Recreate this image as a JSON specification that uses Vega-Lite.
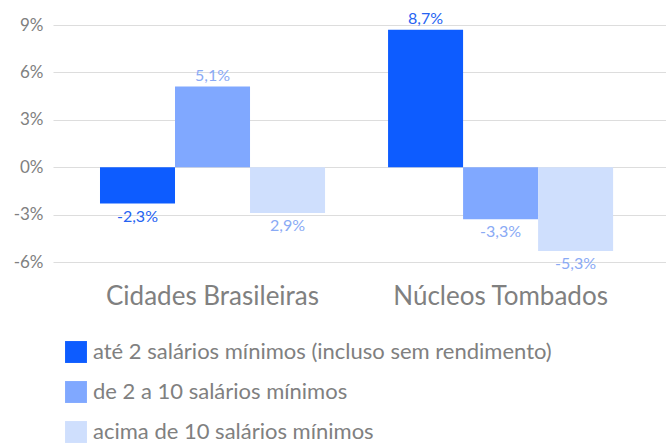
{
  "$schema": "https://vega.github.io/schema/vega-lite/v6.json",
  "width": 613,
  "height": 237,
  "autosize": {"type": "none"},
  "padding": {"left": 53, "top": 25, "right": 0, "bottom": 186},
  "config": {"view": {"stroke": null}, "font": "Lato"},
  "data": {
    "values": [
      {"grupo": "Cidades Brasileiras", "faixa": "até 2 salários mínimos (incluso sem rendimento)", "valor": -2.3, "rotulo": "-2,3%"},
      {"grupo": "Cidades Brasileiras", "faixa": "de 2 a 10 salários mínimos", "valor": 5.1, "rotulo": "5,1%"},
      {"grupo": "Cidades Brasileiras", "faixa": "acima de 10 salários mínimos", "valor": -2.9, "rotulo": "2,9%"},
      {"grupo": "Núcleos Tombados", "faixa": "até 2 salários mínimos (incluso sem rendimento)", "valor": 8.7, "rotulo": "8,7%"},
      {"grupo": "Núcleos Tombados", "faixa": "de 2 a 10 salários mínimos", "valor": -3.3, "rotulo": "-3,3%"},
      {"grupo": "Núcleos Tombados", "faixa": "acima de 10 salários mínimos", "valor": -5.3, "rotulo": "-5,3%"}
    ]
  },
  "encoding": {
    "x": {
      "field": "grupo", "type": "nominal",
      "sort": ["Cidades Brasileiras", "Núcleos Tombados"],
      "scale": {"paddingInner": 0, "paddingOuter": 0.064, "align": 0.42},
      "axis": {"title": null, "labelAngle": 0, "ticks": false, "domain": false, "labelFontSize": 26, "labelLimit": 600, "labelColor": "#808080", "labelPadding": 21}
    },
    "xOffset": {
      "field": "faixa", "type": "nominal",
      "sort": ["até 2 salários mínimos (incluso sem rendimento)", "de 2 a 10 salários mínimos", "acima de 10 salários mínimos"],
      "scale": {"paddingInner": 0, "paddingOuter": 0.42}
    },
    "y": {
      "field": "valor", "type": "quantitative",
      "scale": {"domain": [-6, 9], "nice": false},
      "axis": {"title": null, "values": [-6, -3, 0, 3, 6, 9], "labelExpr": "datum.value + '%'", "grid": true, "gridColor": "#dddddd", "domain": false, "ticks": false, "labelPadding": 10, "labelFontSize": 17, "labelColor": "#808080"}
    }
  },
  "layer": [
    {
      "mark": {"type": "bar"},
      "encoding": {
        "color": {
          "field": "faixa", "type": "nominal",
          "scale": {
            "domain": ["até 2 salários mínimos (incluso sem rendimento)", "de 2 a 10 salários mínimos", "acima de 10 salários mínimos"],
            "range": ["#0d5cff", "#80a8ff", "#cfdffd"]
          },
          "legend": {
            "title": null, "orient": "none", "legendX": 12, "legendY": 316, "direction": "vertical",
            "symbolType": "square", "symbolSize": 480, "symbolStrokeWidth": 0, "symbolOpacity": 1,
            "labelFontSize": 22, "labelColor": "#808080", "labelOffset": 6, "rowPadding": 18, "padding": 0, "labelLimit": 600
          }
        }
      }
    },
    {
      "transform": [{"filter": "datum.valor > 0"}],
      "mark": {"type": "text", "baseline": "bottom", "dy": -3, "fontSize": 16},
      "encoding": {
        "text": {"field": "rotulo", "type": "nominal"},
        "color": {"condition": {"test": "datum.faixa === 'até 2 salários mínimos (incluso sem rendimento)'", "value": "#2563f2"}, "value": "#8aaaf5"}
      }
    },
    {
      "transform": [{"filter": "datum.valor < 0"}],
      "mark": {"type": "text", "baseline": "top", "dy": 5, "fontSize": 16},
      "encoding": {
        "text": {"field": "rotulo", "type": "nominal"},
        "color": {"condition": {"test": "datum.faixa === 'até 2 salários mínimos (incluso sem rendimento)'", "value": "#2563f2"}, "value": "#8aaaf5"}
      }
    }
  ]
}
